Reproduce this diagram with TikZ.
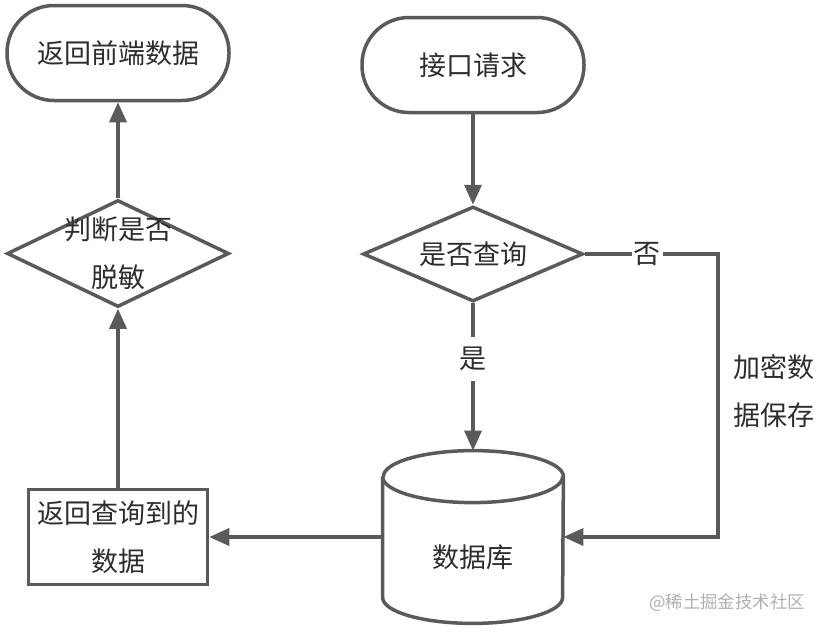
\documentclass[tikz,border=0pt]{standalone}
\usepackage{fontspec}
\setmainfont{Noto Sans CJK SC}
\usepackage{tikz}
\usetikzlibrary{shapes.geometric,arrows.meta}
\definecolor{LineGray}{RGB}{90,90,90}
\definecolor{TextGray}{RGB}{45,45,45}
\definecolor{MarkGray}{RGB}{175,175,175}

\begin{document}
\begin{tikzpicture}[x=0.5pt,y=-0.5pt,
    every node/.style={font=\fontsize{13.5}{24}\selectfont,text=TextGray},
    flow/.style={draw=LineGray,line width=1.75pt},
    arr/.style={flow,-{Triangle[length=10pt,width=8.5pt]}},
    term/.style={flow,rectangle,rounded corners=23.5pt,minimum width=111pt,minimum height=47.5pt},
    dia/.style={flow,diamond,aspect=2.3,inner sep=0pt,minimum width=110pt,minimum height=47.5pt},
    lbl/.style={fill=white,inner xsep=1pt,inner ysep=5pt}]
            \useasboundingbox (0,0) rectangle (824,632);
            \node[term] (ret) at (118,53) {返回前端数据};
            \node[term] (req) at (473,65) {接口请求};
            \node[dia] (ask) at (473,254) {是否查询};
            \node[dia,minimum width=111pt,minimum height=53.5pt,
                  label={[align=center]center:判断是否\\脱敏}] (judge) at (118,253.5) {};
            \node[flow,rectangle,minimum width=89.5pt,minimum height=47.5pt,align=center,inner sep=2pt] (found) at (118,537) {返回查询到的\\数据};
            \node[minimum width=90pt,minimum height=86pt,inner sep=0pt,
                  label={[yshift=-10pt]center:数据库}] (db) at (473,537) {};
            \draw[flow] ([yshift=-13pt]db.north west) -- ([yshift=13pt]db.south west)
                arc[start angle=180,end angle=360,x radius=45pt,y radius=13pt]
                -- ([yshift=-13pt]db.north east)
                arc[start angle=0,end angle=180,x radius=45pt,y radius=13pt];
            \draw[flow] ([yshift=-13pt]db.north west) arc[start angle=180,end angle=360,x radius=45pt,y radius=13pt];
            \coordinate (bend) at (718,254);
            \node[anchor=west,align=left] (save) at (726,391) {加密数\\据保存};
            \node[text=MarkGray,font=\fontsize{8.7}{10}\selectfont] (mark) at (727,603) {@稀土掘金技术社区};
            \draw[arr] (req) -- (ask);
            \draw[arr] (ask) -- node[lbl,pos=0.38] {是} (db);
            \draw[arr] (ask.east) -- node[lbl,pos=0.47,inner ysep=1pt] {否} (bend) |- (db.east);
            \draw[arr] (db) -- (found);
            \draw[arr] (found) -- (judge);
            \draw[arr] (judge) -- (ret);
        \end{tikzpicture}
\end{document}
